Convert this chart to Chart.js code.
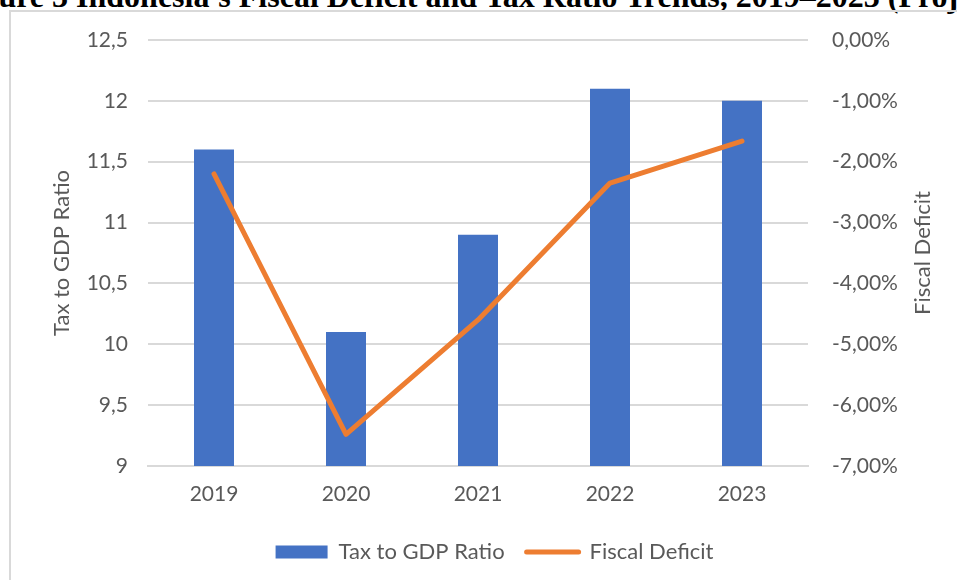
<!DOCTYPE html>
<html>
<head>
<meta charset="utf-8">
<script src="https://cdn.jsdelivr.net/npm/chart.js@4"></script>
<style>
  html, body { margin: 0; padding: 0; background: #fff; overflow: hidden; }
  #wrap { position: relative; width: 957px; height: 580px; overflow: hidden; }
  #title {
    position: absolute; left: -46px; top: -20px; white-space: nowrap;
    font-family: "Liberation Serif", "Times New Roman", serif; font-weight: bold;
    font-size: 32px; line-height: 32px; color: #000;
  }
  #frame {
    position: absolute; left: 9px; top: 10px; width: 1000px; height: 620px;
    border-left: 2px solid #d9d9d9; border-top: 2px solid #d9d9d9;
  }
  #chart { position: absolute; left: 0; top: 0; }
</style>
</head>
<body>
<div id="wrap">
  <div id="title">Figure 3 Indonesia's Fiscal Deficit and Tax Ratio Trends, 2019–2023 (Projection)</div>
  <div id="frame"></div>
  <canvas id="chart" width="957" height="580"></canvas>
</div>
<script>
const years = ['2019', '2020', '2021', '2022', '2023'];
const taxRatio = [11.6, 10.1, 10.9, 12.1, 12.0];
const fiscalDeficit = [-2.2, -6.48, -4.6, -2.35, -1.66]; // percent of GDP

const BLUE = '#4472C4';
const ORANGE = '#ED7D31';
const GREY = '#595959';
const GRID = '#d9d9d9';
const FONT = 'Lato, "Open Sans", sans-serif';

// Excel-style vertical axis titles (both read bottom-to-top)
const axisTitles = {
  id: 'axisTitles',
  afterDraw(chart) {
    const { ctx, chartArea } = chart;
    const midY = (chartArea.top + chartArea.bottom) / 2;
    ctx.save();
    ctx.fillStyle = GREY;
    ctx.font = '22px ' + FONT;
    ctx.textAlign = 'center';
    ctx.textBaseline = 'middle';
    [[62, 'Tax to GDP Ratio'], [923, 'Fiscal Deficit']].forEach(([x, txt]) => {
      ctx.save();
      ctx.translate(x, midY);
      ctx.rotate(-Math.PI / 2);
      ctx.fillText(txt, 0, 0);
      ctx.restore();
    });
    ctx.restore();
  }
};

// legend in the original sits a bit right of the canvas centre
const nudgeLegend = {
  id: 'nudgeLegend',
  afterLayout(chart) {
    if (chart.legend) {
      chart.legend.left += 16;
      chart.legend.right += 16;
    }
  }
};

new Chart(document.getElementById('chart'), {
  data: {
    labels: years,
    datasets: [
      {
        type: 'line',
        label: 'Fiscal Deficit',
        data: fiscalDeficit,
        yAxisID: 'y1',
        borderColor: ORANGE,
        borderWidth: 5,
        borderCapStyle: 'round',
        borderJoinStyle: 'round',
        pointRadius: 0,
        tension: 0,
        order: 0,
      },
      {
        type: 'bar',
        label: 'Tax to GDP Ratio',
        data: taxRatio,
        yAxisID: 'y',
        backgroundColor: BLUE,
        categoryPercentage: 1,
        barPercentage: 0.303,
        order: 1,
      },
    ],
  },
  plugins: [axisTitles, nudgeLegend],
  options: {
    responsive: false,
    animation: false,
    layout: { padding: { top: 40, left: 0, right: 0, bottom: 7 } },
    plugins: {
      tooltip: { enabled: false },
      legend: {
        position: 'bottom',
        labels: {
          color: GREY,
          font: { family: FONT, size: 22 },
          usePointStyle: true,
          pointStyleWidth: 52,
          boxHeight: 13,
          padding: 22,
          generateLabels: () => [
            { text: 'Tax to GDP Ratio', pointStyle: 'rect', fillStyle: BLUE, strokeStyle: BLUE, lineWidth: 0, fontColor: GREY },
            { text: 'Fiscal Deficit', pointStyle: 'line', fillStyle: ORANGE, strokeStyle: ORANGE, lineWidth: 5, lineCap: 'round', fontColor: GREY },
          ],
        },
      },
    },
    scales: {
      x: {
        grid: { display: false, drawTicks: false },
        border: { display: true, color: GRID, width: 2 },
        ticks: { color: GREY, font: { family: FONT, size: 21 }, padding: 16 },
        afterFit: s => { s.height = 53; },
      },
      y: {
        position: 'left',
        min: 9,
        max: 12.5,
        ticks: {
          stepSize: 0.5,
          color: GREY,
          font: { family: FONT, size: 21 },
          padding: 20,
          callback: v => String(v).replace('.', ','),
        },
        grid: { color: GRID, lineWidth: 2, drawTicks: false },
        border: { display: false },
        afterFit: s => { s.width = 148; },
      },
      y1: {
        position: 'right',
        min: -7,
        max: 0,
        ticks: {
          stepSize: 1,
          color: GREY,
          font: { family: FONT, size: 21 },
          padding: 24,
          callback: v => v.toFixed(2).replace('.', ',') + '%',
        },
        grid: { drawOnChartArea: false, drawTicks: false },
        border: { display: false },
        afterFit: s => { s.width = 149; },
      },
    },
  },
});
</script>
</body>
</html>
